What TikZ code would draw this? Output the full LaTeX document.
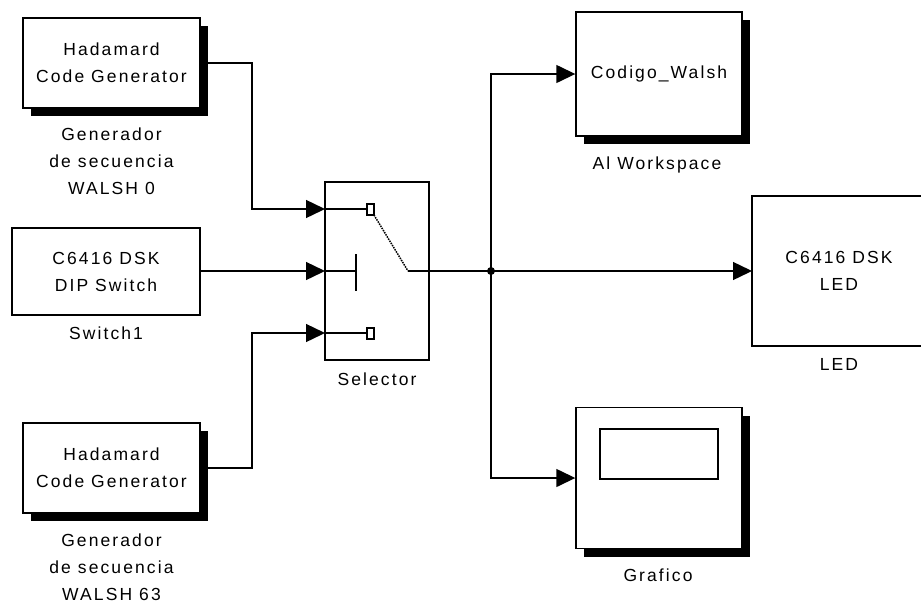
\documentclass[tikz,border=0pt]{standalone}
\usepackage{fontspec}
\setmainfont{Liberation Sans}[LetterSpace=12]
\usetikzlibrary{arrows.meta,shadows}
\begin{document}
\begin{tikzpicture}[x=1pt,y=-1pt,
  every node/.style={font=\fontsize{17.5}{27}\selectfont, align=center, inner sep=0pt},
  blk/.style={draw, line width=1.4pt, fill=white, rectangle},
  shd/.style={drop shadow={fill=black, opacity=1, shadow xshift=8pt, shadow yshift=-8pt}},
  wire/.style={line width=1.4pt},
  sig/.style={wire, -{Triangle[length=19pt,width=18pt]}},
  lbl/.style={anchor=north}
]
\useasboundingbox (0,0) rectangle (921,603);
% blocks
\node[blk, shd, minimum width=177pt, minimum height=90pt] (h1) at (111.5,63) {Hadamard\\Code Generator};
\node[blk, minimum width=188pt, minimum height=87pt] (sw) at (106,271.5) {C6416 DSK\\DIP Switch};
\node[blk, shd, minimum width=177pt, minimum height=90pt] (h2) at (111.5,468) {Hadamard\\Code Generator};
\node[blk, minimum width=104pt, minimum height=178pt] (sel) at (377,271) {};
\node[blk, shd, minimum width=166pt, minimum height=124pt] (cw) at (659,74) {Codigo\_Walsh};
\node[blk, shd, minimum width=166pt, minimum height=141pt] (gr) at (659,478) {};
\draw[line width=1.4pt] (600,429) rectangle (718,479);
% LED block (clipped at right edge)
\coordinate (ledin) at (752,271);
\draw[line width=1.4pt] (921,196) -- (752,196) -- (752,346) -- (921,346);
\node (ledtxt) at (839,271) {C6416 DSK\\LED};
% labels
\node[lbl] (l1) at (111.5,128) {Generador\\de secuencia\\WALSH 0};
\node[lbl] (l2) at (106,327) {Switch1};
\node[lbl] (l3) at (111.5,534) {Generador\\de secuencia\\WALSH 63};
\node[lbl] (l4) at (377,373) {Selector};
\node[lbl] (l5) at (657,157) {Al Workspace};
\node[lbl] (l6) at (839,358) {LED};
\node[lbl] (l7) at (658,569) {Grafico};
% selector ports
\coordinate (in1) at (325,209);
\coordinate (in2) at (325,271);
\coordinate (in3) at (325,333);
\coordinate (out) at (429,271);
\coordinate (j) at (491,271);
% selector internals
\draw[wire] (in1) -- (367,209);
\draw[line width=1.3pt] (367,204) rectangle (374,215);
\draw[line width=1.5pt, densely dotted] (374,215) -- (408,271);
\draw[wire] (408,271) -- (out);
\draw[wire] (in2) -- (356,271);
\draw[wire] (356,254) -- (356,291);
\draw[wire] (in3) -- (367,333);
\draw[line width=1.3pt] (367,328) rectangle (374,339);
% connectors
\draw[sig] (h1.east |- 0,63) -- (252,63) |- (in1);
\draw[sig] (sw.east |- in2) -- (in2);
\draw[sig] (h2.east) -- (252,468) |- (in3);
\draw[sig] (out) -- (ledin);
\draw[sig] (j) |- (cw.west);
\draw[sig] (j) |- (gr.west);
\fill (j) circle (4pt);
\end{tikzpicture}
\end{document}
